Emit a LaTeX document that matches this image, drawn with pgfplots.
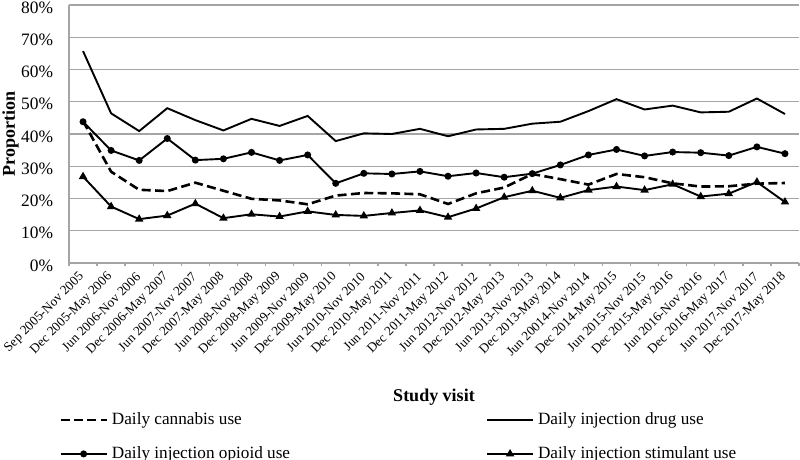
\documentclass[border=0pt]{standalone}
\usepackage{fontspec}
\setmainfont{Liberation Serif}
\usepackage{pgfplots}
\pgfplotsset{compat=1.18}
\definecolor{gridgray}{RGB}{165,165,165}
\begin{document}
\begin{tikzpicture}
\begin{axis}[
  name=ax,
  scale only axis, width=365pt, height=129pt,
  xmin=-0.5, xmax=25.5, ymin=0, ymax=80,
  axis x line*=bottom, axis y line*=left,
  axis line style={gridgray, line width=0.7pt},
  ytick={0,10,...,80},
  yticklabel={\pgfmathprintnumber{\tick}\%},
  /pgf/number format/assume math mode=true,
  ymajorgrids, major grid style={gridgray, line width=0.7pt},
  major tick length=0pt,
  xtick={0,...,25},
  xticklabels={Sep 2005-Nov 2005,Dec 2005-May 2006,Jun 2006-Nov 2006,Dec 2006-May 2007,Jun 2007-Nov 2007,Dec 2007-May 2008,Jun 2008-Nov 2008,Dec 2008-May 2009,Jun 2009-Nov 2009,Dec 2009-May 2010,Jun 2010-Nov 2010,Dec 2010-May 2011,Jun 2011-Nov 2011,Dec 2011-May 2012,Jun 2012-Nov 2012,Dec 2012-May 2013,Jun 2013-Nov 2013,Dec 2013-May 2014,Jun 20014-Nov 2014,Dec 2014-May 2015,Jun 2015-Nov 2015,Dec 2015-May 2016,Jun 2016-Nov 2016,Dec 2016-May 2017,Jun 2017-Nov 2017,Dec 2017-May 2018},
  minor xtick={-0.5,0.5,...,25.5},
  minor tick length=1.6pt, tick align=outside,
  every minor tick/.append style={gridgray, line width=0.7pt},
  x tick label style={xshift=2pt, yshift=-3.5pt, rotate=45, anchor=east, font=\fontsize{6.6}{7}\selectfont},
  y tick label style={xshift=-4.4pt, yshift=-1.2pt, font=\fontsize{8.7}{10}\selectfont},
  xlabel={\textbf{Study visit}}, ylabel={\textbf{Proportion}},
  label style={font=\fontsize{9}{10}\selectfont},
  xlabel style={at={(axis description cs:0.5,-0.522)}, anchor=center},
  ylabel style={at={(axis description cs:-0.08,0.5)}, anchor=center},
  legend columns=2, legend cell align=left,
  legend image code/.code={\draw[#1, mark repeat=2, mark phase=2] plot coordinates {(0pt,0pt) (11.5pt,0pt) (23pt,0pt)};},
  legend style={draw=none, fill=none, at={(-0.022,-0.547)}, anchor=north west,
    font=\fontsize{8.6}{9}\selectfont, row sep=5.5pt,
    /tikz/column 2/.style={column sep=96pt}},
]
\addplot[black, line width=1.3pt, dash pattern=on 4.5pt off 2.2pt] coordinates {
(0,44.0)(1,28.3)(2,22.7)(3,22.3)(4,24.9)(5,22.4)(6,19.9)(7,19.4)(8,18.2)(9,20.9)(10,21.7)(11,21.6)(12,21.3)(13,18.3)(14,21.6)(15,23.4)(16,27.6)(17,26.0)(18,24.3)(19,27.6)(20,26.6)(21,24.7)(22,23.7)(23,23.8)(24,24.6)(25,24.8)};
\addlegendentry{Daily cannabis use}
\addplot[black, line width=0.95pt] coordinates {
(0,65.7)(1,46.4)(2,40.9)(3,48.0)(4,44.3)(5,41.1)(6,44.7)(7,42.5)(8,45.6)(9,37.8)(10,40.2)(11,40.0)(12,41.6)(13,39.3)(14,41.4)(15,41.6)(16,43.2)(17,43.8)(18,47.1)(19,50.8)(20,47.6)(21,48.8)(22,46.7)(23,46.9)(24,51.0)(25,46.2)};
\addlegendentry{Daily injection drug use}
\addplot[black, line width=0.95pt, mark=*, mark size=1.25pt] coordinates {
(0,43.8)(1,34.9)(2,31.8)(3,38.6)(4,31.9)(5,32.3)(6,34.3)(7,31.8)(8,33.5)(9,24.7)(10,27.8)(11,27.6)(12,28.4)(13,26.9)(14,27.9)(15,26.6)(16,27.7)(17,30.4)(18,33.5)(19,35.2)(20,33.2)(21,34.4)(22,34.2)(23,33.3)(24,36.0)(25,33.9)};
\addlegendentry{Daily injection opioid use}
\addplot[black, line width=0.95pt, mark=triangle*, mark size=1.5pt] coordinates {
(0,26.8)(1,17.5)(2,13.6)(3,14.7)(4,18.4)(5,13.9)(6,15.1)(7,14.4)(8,16.0)(9,14.9)(10,14.6)(11,15.5)(12,16.3)(13,14.2)(14,16.9)(15,20.4)(16,22.4)(17,20.2)(18,22.6)(19,23.7)(20,22.6)(21,24.4)(22,20.6)(23,21.5)(24,25.1)(25,18.9)};
\addlegendentry{Daily injection stimulant use}
\end{axis}
\pgfresetboundingbox
\path[use as bounding box] ([xshift=-34.5pt, yshift=-98.5pt]ax.south west) rectangle ([xshift=0.5pt, yshift=2.5pt]ax.north east);
\end{tikzpicture}
\end{document}
